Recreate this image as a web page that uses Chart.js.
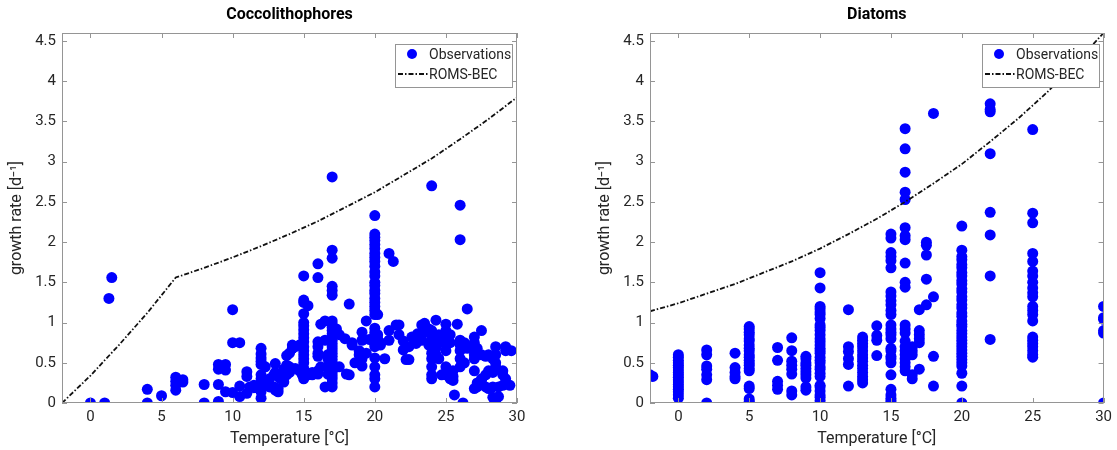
<!DOCTYPE html>
<html>
<head>
<meta charset="utf-8">
<script src="https://cdn.jsdelivr.net/npm/chart.js@4.4.1/dist/chart.umd.min.js"></script>
<style>
  body { margin: 0; background: #fff; }
  .panel { position: absolute; top: 0; }
</style>
</head>
<body>
<div class="panel" style="left:0"><canvas id="coccoChart" width="558" height="450"></canvas></div>
<div class="panel" style="left:558px"><canvas id="diatomChart" width="559" height="450"></canvas></div>
<script>
// Coccolithophores observations (temperature, growth rate)
var coccoTemp = [
    0, 1, 1.3, 1.5, 4, 4, 5, 6, 6, 6, 6, 6.5, 6.5, 8, 8,
    9, 9, 9, 9, 9.5, 9.5, 9.5, 10, 10, 10, 10.5, 10.5, 10.5, 11, 11, 11, 11.2, 11.5, 11.5, 11.7,
    12, 12, 12, 12, 12, 12, 12, 12, 12, 12, 12.3, 12.3, 12.6, 12.6, 12.9, 12.9,
    13, 13, 13, 13.2, 13.2, 13.3, 13.6, 13.6, 13.8, 13.8, 13.8, 14, 14, 14, 14.2, 14.2, 14.4, 14.4, 14.7, 14.7, 14.9,
    15, 15, 15, 15, 15, 15, 15, 15, 15, 15, 15, 15, 15, 15, 15, 15, 15, 15, 15,
    15.3, 15.3, 15.6, 15.6, 16, 16, 16, 16, 16, 16, 16, 16, 16.2, 16.2, 16.5, 16.5, 16.5, 16.7, 16.7, 16.7, 16.7,
    17, 17, 17, 17, 17, 17, 17, 17, 17, 17, 17, 17, 17, 17, 17, 17, 17, 17, 17, 17, 17, 17, 17, 17, 17, 17, 17,
    17.3, 17.3, 17.5, 17.5, 17.9, 18, 18.2, 18.2, 18.4, 18.4, 18.6, 18.9, 18.9, 19.1, 19.1, 19.1, 19.1, 19.4, 19.4, 19.6,
    20, 20, 20, 20, 20, 20, 20, 20, 20, 20, 20, 20, 20, 20, 20, 20, 20, 20, 20, 20, 20, 20, 20, 20, 20, 20, 20, 20, 20, 20, 20, 20, 20,
    20.2, 20.2, 20.2, 20.2, 20.4, 20.4, 20.7, 21, 21, 21, 21.3, 21.5, 21.7, 21.7, 22, 22, 22.2, 22.4, 22.4, 22.6, 22.9,
    23, 23, 23.3, 23.3, 23.5, 23.5, 23.8, 23.8, 24, 24, 24, 24, 24, 24, 24, 24, 24,
    24.3, 24.3, 24.3, 24.5, 24.5, 24.5, 24.7, 24.7, 25, 25, 25, 25, 25, 25, 25.3, 25.3, 25.3, 25.3, 25.5, 25.5, 25.5, 25.6, 25.8,
    26, 26, 26, 26, 26, 26, 26, 26, 26.2, 26.3, 26.3, 26.5, 26.5, 26.8, 27, 27, 27, 27, 27, 27, 27.2, 27.2, 27.2,
    27.5, 27.5, 27.5, 27.5, 27.8, 27.8, 27.8, 28, 28, 28, 28.3, 28.3, 28.3, 28.3, 28.5, 28.5, 28.5, 28.5, 28.5, 28.5,
    28.7, 28.7, 29, 29, 29, 29.2, 29.2, 29.2, 29.5, 29.6
];
var coccoRate = [
    0, 0, 1.30, 1.56, 0.17, 0, 0.09, 0.32, 0.27, 0.22, 0.16, 0.29, 0.26, 0.23, 0,
    0.48, 0.42, 0.23, 0.02, 0.48, 0.41, 0.14, 1.16, 0.75, 0.13, 0.75, 0.21, 0.08, 0.39, 0.33, 0.12, 0.2, 0.22, 0.19, 0.19,
    0.68, 0.61, 0.56, 0.52, 0.48, 0.35, 0.3, 0.22, 0.14, 0.06, 0.45, 0.28, 0.3, 0.2, 0.35, 0.2,
    0.49, 0.38, 0.16, 0.18, 0.14, 0.31, 0.26, 0.42, 0.59, 0.47, 0.35, 0.62, 0.45, 0.38, 0.68, 0.72, 0.43, 0.7, 0.72, 0.4, 0.35,
    1.58, 1.28, 1.25, 1.11, 1.0, 0.96, 0.91, 0.86, 0.81, 0.76, 0.7, 0.65, 0.6, 0.55, 0.5, 0.43, 0.38, 0.33, 0.3,
    1.21, 0.35, 0.38, 0.35, 1.73, 1.56, 0.76, 0.7, 0.62, 0.58, 0.4, 0.36, 0.98, 0.45, 1.02, 0.78, 0.2, 0.45, 0.55, 0.6, 0.36,
    2.81, 1.9, 1.8, 1.45, 1.4, 1.34, 1.02, 0.98, 0.94, 0.9, 0.86, 0.82, 0.78, 0.74, 0.7, 0.66, 0.62, 0.58, 0.54, 0.5, 0.46, 0.42, 0.38, 0.34, 0.3, 0.25, 0.2,
    0.92, 0.88, 0.85, 0.45, 0.8, 0.36, 1.23, 0.35, 0.75, 0.72, 0.5, 0.6, 0.65, 0.88, 0.78, 0.55, 0.46, 1.02, 0.62, 0.79,
    2.33, 2.1, 2.06, 2.02, 1.97, 1.92, 1.86, 1.81, 1.76, 1.7, 1.63, 1.58, 1.5, 1.46, 1.4, 1.36, 1.3, 1.25, 1.2, 1.15, 1.1, 0.93, 0.88, 0.84, 0.8, 0.77, 0.73, 0.7, 0.56, 0.45, 0.35, 0.3, 0.2,
    1.1, 0.85, 0.8, 0.75, 0.75, 0.72, 0.55, 1.86, 0.9, 0.78, 1.76, 0.97, 0.97, 0.85, 0.77, 0.66, 0.54, 0.54, 0.7, 0.82, 0.74,
    0.81, 0.86, 0.97, 0.78, 0.99, 0.88, 0.92, 0.72, 2.7, 0.9, 0.85, 0.8, 0.62, 0.55, 0.45, 0.35, 0.3,
    1.03, 0.68, 0.6, 0.85, 0.75, 0.55, 0.8, 0.35, 0.98, 0.9, 0.72, 0.65, 0.45, 0.35, 0.85, 0.75, 0.35, 0.3, 0.4, 0.33, 0.28, 0.1, 0.98,
    2.46, 2.03, 0.78, 0.75, 0.72, 0.65, 0.55, 0.45, 0, 0.75, 0.5, 1.17, 0.68, 0.7, 0.82, 0.75, 0.6, 0.55, 0.4, 0.18, 0.68, 0.25, 0.2,
    0.9, 0.6, 0.3, 0.28, 0.58, 0.35, 0.2, 0.6, 0.4, 0.18, 0.55, 0.38, 0.2, 0.07, 0.7, 0.6, 0.5, 0.45, 0.05, 0.03,
    0.2, 0.08, 0.4, 0.35, 0.22, 0.7, 0.65, 0.3, 0.22, 0.65
];

// Diatoms observations (temperature, growth rate)
var diatomTemp = [
    -2, -1.8,
    0, 0, 0, 0, 0, 0, 0, 0, 0, 0, 0, 0, 0, 0, 0, 0, 0, 0,
    2, 2, 2, 2, 2, 2, 2, 4, 4, 4, 4, 4,
    5, 5, 5, 5, 5, 5, 5, 5, 5, 5, 5, 5, 5, 5, 5, 5, 5, 5, 5, 5, 5,
    7, 7, 7, 7, 7, 8, 8, 8, 8, 8, 8, 8, 8, 9, 9, 9, 9, 9, 9, 9, 9, 9, 9,
    10, 10, 10, 10, 10, 10, 10, 10, 10, 10, 10, 10, 10, 10, 10, 10, 10, 10, 10, 10, 10, 10, 10, 10, 10, 10, 10, 10, 10, 10,
    12, 12, 12, 12, 12, 12, 13, 13, 13, 13, 13, 13, 13, 13, 13, 13, 13, 13, 13, 13, 14, 14, 14, 14,
    15, 15, 15, 15, 15, 15, 15, 15, 15, 15, 15, 15, 15, 15, 15, 15, 15, 15, 15, 15, 15, 15, 15, 15, 15, 15, 15, 15,
    16, 16, 16, 16, 16, 16, 16, 16, 16, 16, 16, 16, 16, 16, 16, 16, 16, 16, 16, 16, 16, 16,
    16.5, 16.5, 16.5, 16.5, 16.5, 17, 17, 17, 17, 17, 17, 17.5, 17.5, 17.5, 17.5, 17.5, 18, 18, 18, 18,
    20, 20, 20, 20, 20, 20, 20, 20, 20, 20, 20, 20, 20, 20, 20, 20, 20, 20, 20, 20, 20, 20, 20, 20, 20, 20, 20, 20, 20, 20, 20, 20, 20, 20, 20, 20,
    22, 22, 22, 22, 22, 22, 22, 22,
    25, 25, 25, 25, 25, 25, 25, 25, 25, 25, 25, 25, 25, 25, 25, 25, 25, 25, 25, 25, 25, 25,
    30, 30, 30, 30, 30, 30
];
var diatomRate = [
    0.35, 0.33,
    0.6, 0.57, 0.53, 0.5, 0.47, 0.44, 0.41, 0.38, 0.35, 0.32, 0.29, 0.26, 0.23, 0.2, 0.17, 0.14, 0.1, 0.06,
    0.66, 0.6, 0.46, 0.42, 0.35, 0.29, 0, 0.62, 0.44, 0.38, 0.33, 0.3,
    0.95, 0.92, 0.88, 0.85, 0.8, 0.77, 0.72, 0.68, 0.65, 0.6, 0.57, 0.53, 0.5, 0.47, 0.43, 0.4, 0.21, 0.18, 0.05, 0.02, 0,
    0.69, 0.53, 0.27, 0.22, 0.17, 0.81, 0.65, 0.52, 0.47, 0.42, 0.36, 0.15, 0.1, 0.58, 0.55, 0.5, 0.47, 0.43, 0.39, 0.35, 0.31, 0.2, 0.16,
    1.62, 1.43, 1.2, 1.17, 1.13, 1.1, 1.05, 0.97, 0.94, 0.9, 0.85, 0.8, 0.76, 0.72, 0.68, 0.65, 0.62, 0.57, 0.53, 0.5, 0.45, 0.42, 0.37, 0.33, 0.22, 0.2, 0.15, 0.1, 0.07, 0.03,
    1.16, 0.7, 0.64, 0.55, 0.48, 0.21, 0.82, 0.78, 0.74, 0.7, 0.65, 0.6, 0.56, 0.52, 0.47, 0.43, 0.38, 0.33, 0.29, 0.25, 0.96, 0.84, 0.78, 0.59,
    2.1, 2.05, 1.87, 1.82, 1.77, 1.68, 1.38, 1.33, 1.27, 1.22, 1.15, 1.1, 0.97, 0.92, 0.88, 0.85, 0.8, 0.68, 0.65, 0.58, 0.55, 0.5, 0.35, 0.17, 0.1, 0.06, 0.03, 0,
    3.41, 3.16, 2.87, 2.62, 2.53, 2.18, 2.08, 2.03, 1.74, 1.5, 1.44, 0.97, 0.92, 0.87, 0.77, 0.7, 0.65, 0.6, 0.55, 0.5, 0.45, 0.4,
    0.7, 0.65, 0.6, 0.35, 0.3, 1.16, 0.9, 0.85, 0.8, 0.75, 0.42, 2.0, 1.96, 1.84, 1.54, 1.22, 3.6, 1.32, 0.58, 0.21,
    2.2, 1.9, 1.82, 1.78, 1.72, 1.68, 1.62, 1.58, 1.52, 1.48, 1.42, 1.38, 1.32, 1.28, 1.22, 1.18, 1.12, 1.08, 1.02, 0.98, 0.95, 0.9, 0.86, 0.82, 0.78, 0.74, 0.7, 0.66, 0.62, 0.58, 0.54, 0.5, 0.46, 0.37, 0.21, 0,
    3.72, 3.65, 3.62, 3.1, 2.37, 2.09, 1.58, 0.79,
    3.4, 2.36, 2.24, 1.86, 1.76, 1.64, 1.58, 1.5, 1.43, 1.37, 1.32, 1.2, 1.15, 1.1, 1.02, 0.82, 0.78, 0.74, 0.7, 0.65, 0.6, 0.57,
    1.2, 1.06, 1.04, 0.9, 0.87, 0
];

// ROMS-BEC model curves
var modelTemp = [-2, 0, 2, 4, 6, 8, 10, 12, 14, 16, 18, 20, 22, 24, 26, 28, 30];
var coccoModel = [0, 0.34, 0.72, 1.12, 1.56, 1.68, 1.81, 1.95, 2.10, 2.26, 2.44, 2.62, 2.83, 3.04, 3.28, 3.53, 3.80];
var diatomModel = [1.14, 1.24, 1.36, 1.48, 1.62, 1.76, 1.92, 2.10, 2.29, 2.50, 2.73, 2.97, 3.25, 3.54, 3.86, 4.22, 4.60];

var xTicks = [0, 5, 10, 15, 20, 25, 30];
var yTicks = [0, 0.5, 1, 1.5, 2, 2.5, 3, 3.5, 4, 4.5];

Chart.defaults.font.family = "Roboto";
Chart.defaults.color = "#262626";

function toPoints(xs, ys) {
    return xs.map(function (x, i) { return { x: x, y: ys[i] }; });
}

// box, inward ticks, title and legend drawn like the original figure
var matlabAxes = {
    id: "matlabAxes",
    afterDatasetsDraw: function (chart, args, opts) {
        var ctx = chart.ctx;
        var a = chart.chartArea;
        var xs = chart.scales.x;
        var ys = chart.scales.y;
        ctx.save();
        ctx.strokeStyle = "#959595";
        ctx.lineWidth = 1;
        ctx.strokeRect(Math.round(a.left) + 0.5, Math.round(a.top) + 0.5,
            Math.round(a.width) - 1, Math.round(a.height) - 1);
        ctx.beginPath();
        xTicks.forEach(function (t) {
            var px = Math.round(xs.getPixelForValue(t)) + 0.5;
            ctx.moveTo(px, a.bottom); ctx.lineTo(px, a.bottom - 5);
            ctx.moveTo(px, a.top); ctx.lineTo(px, a.top + 5);
        });
        yTicks.forEach(function (t) {
            var py = Math.round(ys.getPixelForValue(t)) + 0.5;
            ctx.moveTo(a.left, py); ctx.lineTo(a.left + 5, py);
            ctx.moveTo(a.right, py); ctx.lineTo(a.right - 5, py);
        });
        ctx.stroke();

        // title
        ctx.fillStyle = "#000";
        ctx.font = "bold 16px Roboto";
        ctx.textAlign = "center";
        ctx.textBaseline = "middle";
        ctx.fillText(opts.title, (a.left + a.right) / 2, a.top - 18);

        // legend box
        var bw = 117, bh = 43;
        var bx = Math.round(a.right) - 5 - bw, by = Math.round(a.top) + 11;
        ctx.fillStyle = "#fff";
        ctx.fillRect(bx, by, bw, bh);
        ctx.strokeStyle = "#959595";
        ctx.strokeRect(bx + 0.5, by + 0.5, bw, bh);
        var obs = chart.data.datasets[0];
        var mod = chart.data.datasets[1];
        ctx.fillStyle = obs.backgroundColor;
        ctx.beginPath();
        ctx.arc(bx + 17, by + 10, 5, 0, Math.PI * 2);
        ctx.fill();
        ctx.strokeStyle = mod.borderColor;
        ctx.lineWidth = mod.borderWidth;
        ctx.setLineDash(mod.borderDash);
        ctx.beginPath();
        ctx.moveTo(bx + 3, by + 30);
        ctx.lineTo(bx + 33, by + 30);
        ctx.stroke();
        ctx.setLineDash([]);
        ctx.fillStyle = "#262626";
        ctx.font = "14px Roboto";
        ctx.textAlign = "left";
        ctx.fillText(obs.label, bx + 34, by + 11);
        ctx.fillText(mod.label, bx + 34, by + 31);
        ctx.restore();
    }
};

function makeChart(id, title, obsT, obsR, model, padLeft, padRight) {
    return new Chart(document.getElementById(id), {
        type: "scatter",
        data: {
            datasets: [
                {
                    label: "Observations",
                    data: toPoints(obsT, obsR),
                    backgroundColor: "#0000ff",
                    borderWidth: 0,
                    pointRadius: 5.5,
                    order: 1,
                },
                {
                    label: "ROMS-BEC",
                    type: "line",
                    data: toPoints(modelTemp, model),
                    borderColor: "#111",
                    borderWidth: 1.8,
                    borderDash: [5, 2, 1.5, 2],
                    pointRadius: 0,
                    showLine: true,
                    fill: false,
                    tension: 0,
                    order: 0,
                },
            ],
        },
        options: {
            responsive: false,
            animation: false,
            devicePixelRatio: 1,
            layout: { padding: { left: padLeft, right: padRight, top: 33, bottom: 0 } },
            plugins: {
                legend: { display: false },
                tooltip: { enabled: false },
                matlabAxes: { title: title },
            },
            scales: {
                x: {
                    type: "linear",
                    min: -2,
                    max: 30,
                    grid: { display: false, drawTicks: false },
                    border: { display: false },
                    ticks: { stepSize: 5, includeBounds: false, padding: 5, maxRotation: 0, font: { size: 15 }, color: "#262626" },
                    title: { display: true, text: "Temperature [°C]", font: { size: 16 }, color: "#262626", padding: { top: 0, bottom: 1 } },
                    afterFit: function (s) { s.height = 47; },
                },
                y: {
                    type: "linear",
                    min: 0,
                    max: 4.6,
                    grid: { display: false, drawTicks: false },
                    border: { display: false },
                    ticks: {
                        stepSize: 0.5, includeBounds: false, padding: 6, font: { size: 15 }, color: "#262626",
                        callback: function (v) { return String(v); },
                    },
                    title: { display: true, text: "growth rate [d⁻¹]", font: { size: 16 }, color: "#262626", padding: { top: 7, bottom: 0 } },
                    afterFit: function (s) { s.width = 62; },
                },
            },
        },
        plugins: [matlabAxes],
    });
}

makeChart("coccoChart", "Coccolithophores", coccoTemp, coccoRate, coccoModel, 0, 41);
makeChart("diatomChart", "Diatoms", diatomTemp, diatomRate, diatomModel, 30, 12);
</script>
</body>
</html>
